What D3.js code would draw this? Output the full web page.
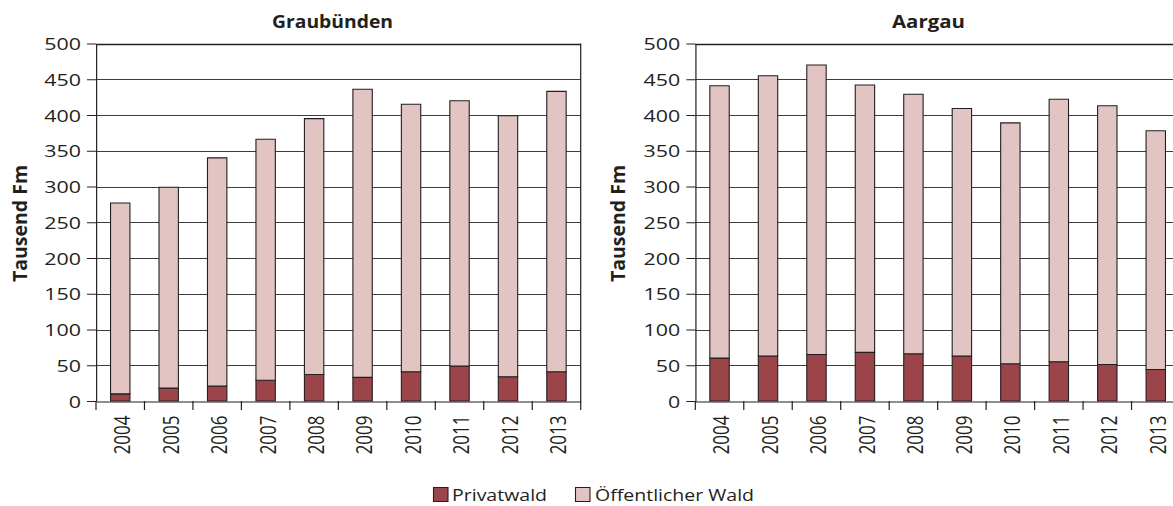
<!DOCTYPE html>
<html><head><meta charset="utf-8">
<script src="https://cdn.jsdelivr.net/npm/d3@7"></script>
<style>
body{margin:0;background:#fff}
svg{display:block}
text{font-family:"Open Sans",sans-serif;fill:#231f20}
</style>
</head><body>
<svg id="c" width="1173" height="506"></svg>
<script>
// ---- data (Tausend Fm) ----
const years = ["2004","2005","2006","2007","2008","2009","2010","2011","2012","2013"];
const graubuendenPrivat      = [10, 18, 21, 29, 37, 33, 41, 49, 34, 41];
const graubuendenOeffentlich = [267, 281, 319, 337, 358, 403, 374, 371, 365, 392];
const aargauPrivat           = [60, 63, 65, 68, 66, 63, 52, 55, 51, 44];
const aargauOeffentlich      = [381, 392, 405, 374, 363, 346, 337, 367, 362, 334];
const yTicks = [0, 50, 100, 150, 200, 250, 300, 350, 400, 450, 500];
const seriesNames = ["Privatwald", "Öffentlicher Wald"];
const seriesColors = ["#9b454b", "#e2c5c3"];
const panelTitles = ["Graubünden", "Aargau"];
const yTitle = "Tausend Fm";

// ---- layout ----
const S = 1.26;               // horizontal stretch of the reference
const N = v => v / S;         // screen px -> inner units
const ink = "#231f20";
const svg = d3.select("#c");
const root = svg.append("g").attr("transform", `scale(${S},1)`);

const y = d3.scaleLinear().domain([0, 500]).range([401, 43.5]);

function panel(title, priv, pub, sx0, sx1, titleX, titleLen, yTitleX) {
  const x0 = N(sx0), x1 = N(sx1);
  const x = d3.scaleBand().domain(years).range([x0, x1]).paddingInner(0.6).paddingOuter(0.3);
  const g = root.append("g");
  const cy = v => Math.round(y(v)) + 0.5;

  // gridlines
  g.append("g").selectAll("line").data(yTicks.filter(d => d > 0 && d < 500)).join("line")
    .attr("x1", x0).attr("x2", x1).attr("y1", cy).attr("y2", cy)
    .attr("stroke", "#3c3c3c").attr("stroke-width", 1).attr("vector-effect", "non-scaling-stroke");

  // top and right border
  g.append("line").attr("x1", x0).attr("x2", x1).attr("y1", cy(500)).attr("y2", cy(500))
    .attr("stroke", ink).attr("stroke-width", 1.5).attr("vector-effect", "non-scaling-stroke");
  g.append("line").attr("x1", x1).attr("x2", x1).attr("y1", y(500)).attr("y2", y(0))
    .attr("stroke", ink).attr("stroke-width", 1.2).attr("vector-effect", "non-scaling-stroke");

  // stacked bars
  const rows = years.map((yr, i) => ({year: yr, p: priv[i], o: pub[i]}));
  const stack = d3.stack().keys(["p", "o"])(rows);
  g.append("g").selectAll("g").data(stack).join("g")
    .attr("fill", (d, i) => seriesColors[i])
    .selectAll("rect").data(d => d).join("rect")
    .attr("x", d => x(d.data.year))
    .attr("width", x.bandwidth())
    .attr("y", d => y(d[1]))
    .attr("height", d => y(d[0]) - y(d[1]))
    .attr("stroke", ink).attr("stroke-width", 1.1).attr("vector-effect", "non-scaling-stroke");

  // y axis
  const ya = g.append("g").attr("transform", `translate(${x0},0)`)
    .call(d3.axisLeft(y).tickValues(yTicks).tickSize(N(9)).tickSizeOuter(0).tickPadding(N(6)));
  ya.select(".domain").attr("stroke", ink).attr("stroke-width", 1.2).attr("vector-effect", "non-scaling-stroke");
  ya.selectAll(".tick line").attr("stroke", ink).attr("vector-effect", "non-scaling-stroke");
  ya.selectAll("text").attr("font-size", 17).attr("font-family", "Open Sans").attr("fill", ink).attr("dy", "0.36em");

  // x axis (labels at band centres, boundary ticks)
  const xa = g.append("g").attr("transform", `translate(0,${cy(0)})`)
    .call(d3.axisBottom(x).tickSize(0).tickSizeOuter(0));
  xa.select(".domain").attr("stroke", ink).attr("stroke-width", 1.2).attr("vector-effect", "non-scaling-stroke");
  xa.selectAll("text")
    .attr("font-size", 17).attr("font-family", "Open Sans").attr("fill", ink)
    .attr("text-anchor", "end")
    .attr("transform", "rotate(-90)")
    .attr("x", -14).attr("y", 0).attr("dy", "0.46em");
  const step = x.step();
  g.append("g").selectAll("line").data(d3.range(years.length + 1)).join("line")
    .attr("x1", i => x0 + i * step).attr("x2", i => x0 + i * step)
    .attr("y1", y(0)).attr("y2", y(0) + 9)
    .attr("stroke", ink).attr("stroke-width", 1.2).attr("vector-effect", "non-scaling-stroke");

  // panel title
  g.append("text").attr("x", N(titleX)).attr("y", 28.5)
    .attr("text-anchor", "middle").attr("font-size", 17.5).attr("font-weight", 700)
    .attr("textLength", N(titleLen)).attr("lengthAdjust", "spacingAndGlyphs")
    .text(title);

  // y title
  g.append("text")
    .attr("transform", `translate(${N(yTitleX)},223.5) rotate(-90)`)
    .attr("text-anchor", "middle").attr("font-size", 15.5).attr("font-weight", 700)
    .attr("textLength", 117).attr("lengthAdjust", "spacingAndGlyphs")
    .text(yTitle);
}

panel(panelTitles[0], graubuendenPrivat, graubuendenOeffentlich, 96, 580.7, 332.5, 121, 26.7);
panel(panelTitles[1], aargauPrivat, aargauOeffentlich, 695.3, 1180, 928.5, 73, 625);

// legend
const legendX = [433.5, 575.5];
const legendTextX = [452, 595];
const legendLen = [95, 159];
const lg = root.append("g");
seriesNames.forEach((name, i) => {
  lg.append("rect").attr("x", N(legendX[i])).attr("y", 487.5).attr("width", N(14.5)).attr("height", 14)
    .attr("fill", seriesColors[i]).attr("stroke", ink).attr("stroke-width", 1.1).attr("vector-effect", "non-scaling-stroke");
  lg.append("text").attr("x", N(legendTextX[i])).attr("y", 501.5)
    .attr("font-size", 16.5)
    .attr("textLength", N(legendLen[i])).attr("lengthAdjust", "spacingAndGlyphs")
    .text(name);
});
</script>
</body></html>
